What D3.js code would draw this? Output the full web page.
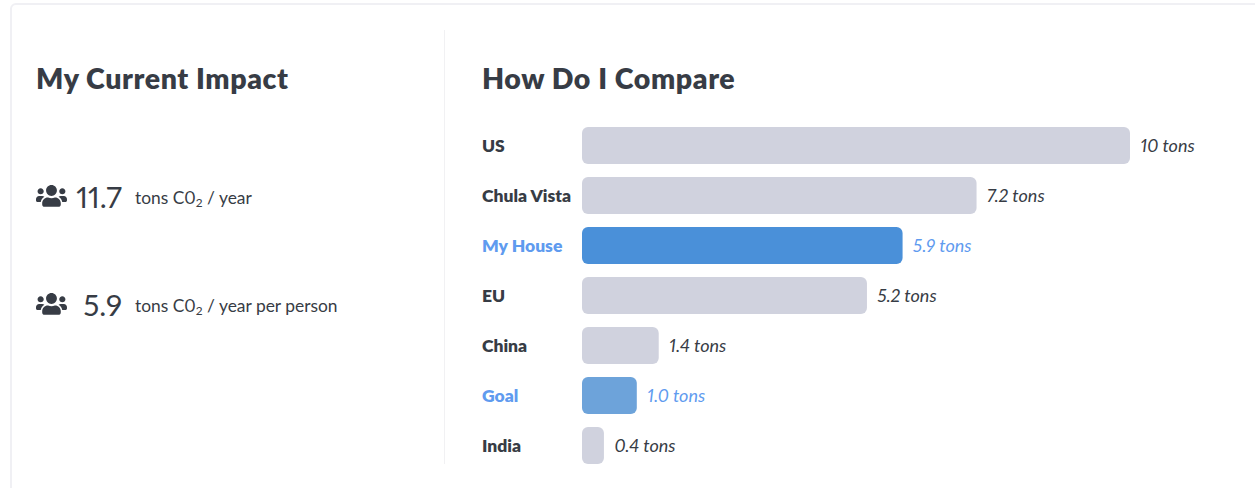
<!DOCTYPE html>
<html>
<head>
    <meta charset="utf-8">
    <title>How Do I Compare</title>
    <script src="https://d3js.org/d3.v7.min.js"></script>
    <style>
      html, body { margin: 0; padding: 0; background: #fff; overflow: hidden; }
      text { font-family: Lato, "Open Sans", sans-serif; fill: #373c45; font-variant-numeric: proportional-nums; font-feature-settings: "pnum"; }
    </style>
</head>

<body>
    <div id="chart"></div>
<script type="text/javascript">
/* global d3 */

const categories = ['US', 'Chula Vista', 'My House', 'EU', 'China', 'Goal', 'India'];
const tons = [10, 7.2, 5.85, 5.2, 1.4, 1.0, 0.4];
const valueLabels = ['10 tons', '7.2 tons', '5.9 tons', '5.2 tons', '1.4 tons', '1.0 tons', '0.4 tons'];
const highlighted = ['My House', 'Goal'];

const statValues = ['11.7', '5.9'];
const statUnits = [' / year', ' / year per person'];

const width = 1255;
const height = 488;

const grey = '#d0d2de';
const blueText = '#5f9bef';
const barColor = { 'My House': '#4a90d9', 'Goal': '#6da3da' };

// font awesome "users" glyph
const usersIcon = 'M96 224c35.3 0 64-28.7 64-64s-28.7-64-64-64-64 28.7-64 64 28.7 64 64 64zm448 0c35.3 0 64-28.7 64-64s-28.7-64-64-64-64 28.7-64 64 28.7 64 64 64zm32 32h-64c-17.6 0-33.5 7.1-45.1 18.6 40.3 22.1 68.9 62 75.1 109.4h66c17.7 0 32-14.3 32-32v-32c0-35.3-28.7-64-64-64zm-256 0c61.9 0 112-50.1 112-112S381.9 32 320 32 208 82.1 208 144s50.1 112 112 112zm76.8 32h-8.3c-20.8 10-43.9 16-68.5 16s-47.6-6-68.5-16h-8.3C179.6 288 128 339.6 128 403.2V432c0 26.5 21.5 48 48 48h288c26.5 0 48-21.5 48-48v-28.8c0-63.6-51.6-115.2-115.2-115.2zm-223.7-13.4C161.5 263.1 145.6 256 128 256H64c-35.3 0-64 28.7-64 64v32c0 17.7 14.3 32 32 32h65.9c6.3-47.4 34.9-87.3 75.2-109.4z';

const svg = d3.select('#chart')
  .append('svg')
    .attr('width', width)
    .attr('height', height)
    .style('display', 'block');

// card outline, runs off the right and bottom of the window
svg.append('rect')
    .attr('x', 11)
    .attr('y', 4)
    .attr('width', 1400)
    .attr('height', 700)
    .attr('rx', 5)
    .attr('fill', '#fff')
    .attr('stroke', '#f0f0f4')
    .attr('stroke-width', 2);

svg.append('line')
    .attr('x1', 444.5)
    .attr('x2', 444.5)
    .attr('y1', 30)
    .attr('y2', 464)
    .attr('stroke', '#f1f1f3');

svg.selectAll('.title')
  .data([[36, 'My Current Impact'], [482, 'How Do I Compare']])
  .enter()
  .append('text')
    .attr('class', 'title')
    .attr('x', d => d[0])
    .attr('y', 88.5)
    .attr('font-size', 28.5)
    .attr('font-weight', 800)
    .attr('letter-spacing', 0.6)
    .text(d => d[1]);

// left panel
const statY = d3.scalePoint()
  .domain(statValues)
  .range([208, 316]);

const stats = svg.selectAll('.stat')
  .data(statValues)
  .enter()
  .append('g')
    .attr('class', 'stat')
    .attr('transform', d => `translate(0, ${statY(d)})`);

stats.append('path')
    .attr('d', usersIcon)
    .attr('fill', '#373c45')
    .attr('transform', 'translate(36, -24.5) scale(0.0484)');

stats.append('text')
    .attr('x', 122)
    .attr('y', 0)
    .attr('text-anchor', 'end')
    .attr('font-size', 29.5)
    .text(d => d);

const unitText = stats.append('text')
    .attr('x', 135)
    .attr('y', -4.5)
    .attr('font-size', 17.4);

unitText.append('tspan').text('tons C0');
unitText.append('tspan')
    .attr('font-size', 12)
    .attr('dy', 3)
    .text('2');
unitText.append('tspan')
    .attr('dy', -3)
    .text((d, i) => statUnits[i]);

// bars
const xScale = d3.scaleLinear()
  .domain([0, 10])
  .range([582, 1130]);

const yScale = d3.scaleBand()
  .domain(categories)
  .range([120.5, 470.5])
  .paddingInner(13 / 50)
  .paddingOuter(6.5 / 50);

const yAxis = svg.append('g')
    .attr('transform', 'translate(482, 0)')
  .call(d3.axisLeft(yScale).tickSize(0));

yAxis.select('.domain').remove();

yAxis.selectAll('text')
    .attr('x', 0)
    .attr('dy', '0.35em')
    .style('text-anchor', 'start')
    .style('font-family', 'Lato, sans-serif')
    .style('font-size', '17.5px')
    .style('font-weight', 800)
    .style('fill', d => highlighted.includes(d) ? blueText : '#373c45');

const rows = categories.map((name, i) => ({ name, value: tons[i], label: valueLabels[i] }));

svg.selectAll('.bar')
  .data(rows)
  .enter()
  .append('rect')
    .attr('class', 'bar')
    .attr('x', xScale(0))
    .attr('y', d => yScale(d.name))
    .attr('width', d => xScale(d.value) - xScale(0))
    .attr('height', yScale.bandwidth())
    .attr('rx', 6)
    .attr('fill', d => barColor[d.name] || grey);

svg.selectAll('.value')
  .data(rows)
  .enter()
  .append('text')
    .attr('class', 'value')
    .attr('x', d => xScale(d.value) + 10.5)
    .attr('y', d => yScale(d.name) + yScale.bandwidth() / 2)
    .attr('dy', '0.35em')
    .attr('font-size', 18)
    .attr('font-style', 'italic')
    .style('fill', d => highlighted.includes(d.name) ? blueText : '#373c45')
    .text(d => d.label);
</script>
</body>

</html>
